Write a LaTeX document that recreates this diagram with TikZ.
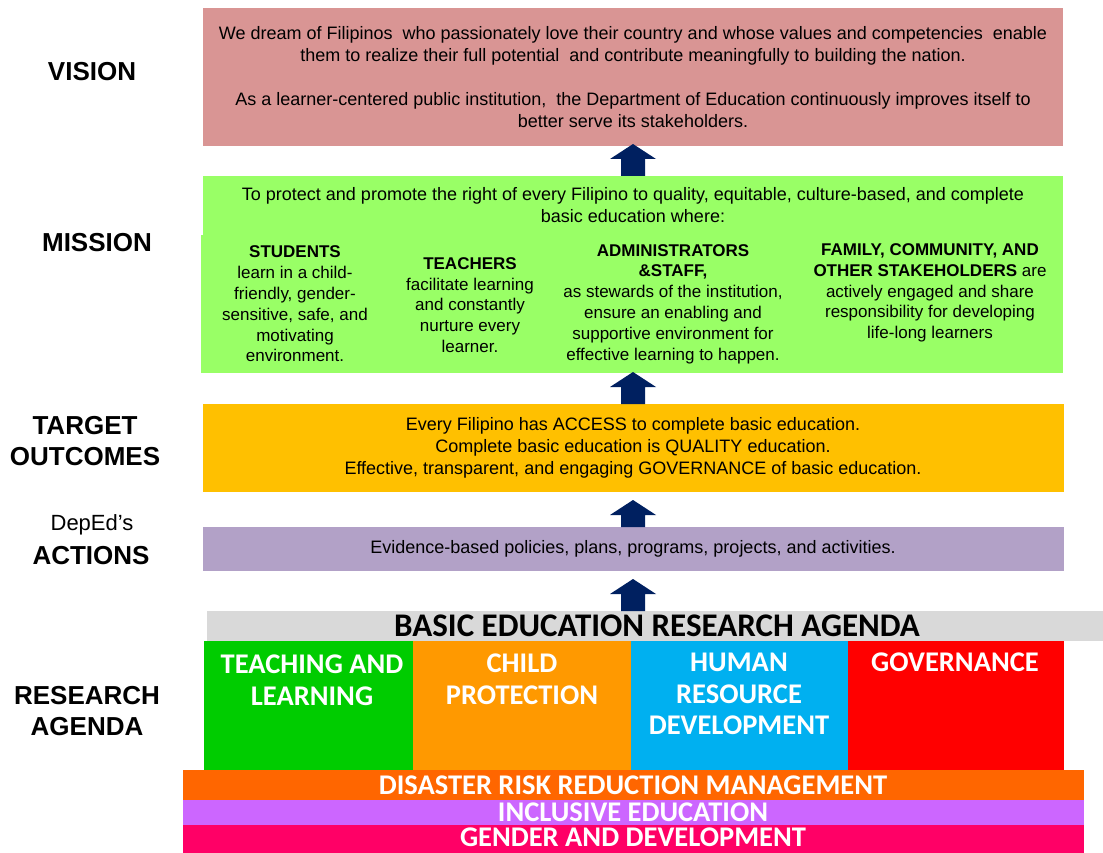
\documentclass[tikz,border=0pt]{standalone}
\usepackage{fontspec}
\setmainfont{Liberation Sans}
\newfontfamily\agfont{Carlito}
\usetikzlibrary{calc}
\definecolor{visionc}{HTML}{D99594}
\definecolor{missionc}{HTML}{99FF66}
\definecolor{targetc}{HTML}{FFC000}
\definecolor{actionc}{HTML}{B2A1C7}
\definecolor{greyc}{HTML}{D9D9D9}
\definecolor{tlc}{HTML}{00CC00}
\definecolor{cpc}{HTML}{FF9900}
\definecolor{hrc}{HTML}{00B0F0}
\definecolor{govc}{HTML}{FF0000}
\definecolor{drrc}{HTML}{FF6600}
\definecolor{incc}{HTML}{CC66FF}
\definecolor{gadc}{HTML}{FF0066}
\definecolor{navyc}{HTML}{002060}
\newcommand\blockarrow[2]{%
  \fill[navyc] ([xshift=-12pt]ax |- #1.north) -- ([xshift=-12pt,yshift=#2-15pt]ax |- #1.north)
    -- ([xshift=-23pt,yshift=#2-15pt]ax |- #1.north) -- ([yshift=#2]ax |- #1.north)
    -- ([xshift=23pt,yshift=#2-15pt]ax |- #1.north) -- ([xshift=12pt,yshift=#2-15pt]ax |- #1.north)
    -- ([xshift=12pt]ax |- #1.north) -- cycle;}
\begin{document}
\begin{tikzpicture}[x=1pt,y=-1pt,
  box/.style={draw=none,inner sep=0pt,outer sep=0pt,anchor=north west},
  lbl/.style={font=\bfseries\fontsize{26}{31}\selectfont,align=center,inner sep=0pt},
  body/.style={font=\fontsize{18}{22}\selectfont,align=center,inner sep=0pt},
  col/.style={font=\fontsize{17}{20.8}\selectfont,align=center,inner sep=0pt},
  ag/.style={font=\agfont\bfseries\fontsize{28.5}{31.5}\selectfont,align=center,inner sep=0pt,text=white},
  band/.style={font=\agfont\bfseries\fontsize{28.5}{28.5}\selectfont,inner sep=0pt,text=white}]
\useasboundingbox (0,0) rectangle (1103,853);
\coordinate (ax) at (633,0);
% boxes
\node[box,fill=visionc,minimum width=860pt,minimum height=138pt] (vision) at (203,8) {};
\node[box,fill=missionc,minimum width=860pt,minimum height=60pt] (mission) at (203,176) {};
\node[box,fill=missionc,minimum width=862pt,minimum height=138pt] (missionlow) at (201,235) {};
\node[box,fill=targetc,minimum width=861pt,minimum height=88pt] (target) at (203,404) {};
\node[box,fill=actionc,minimum width=861pt,minimum height=44pt] (action) at (203,527) {};
\node[box,fill=greyc,minimum width=896pt,minimum height=30pt] (bera) at (207,611) {};
\node[box,fill=tlc,minimum width=210pt,minimum height=129pt] (tl) at (204,641) {};
\node[box,fill=cpc,minimum width=218pt,minimum height=129pt] (cp) at (413,641) {};
\node[box,fill=hrc,minimum width=217pt,minimum height=129pt] (hr) at (631,641) {};
\node[box,fill=govc,minimum width=216pt,minimum height=129pt] (gov) at (848,641) {};
\node[box,fill=drrc,minimum width=901pt,minimum height=30pt] (drr) at (183,770) {};
\node[box,fill=incc,minimum width=901pt,minimum height=25pt] (inc) at (183,800) {};
\node[box,fill=gadc,minimum width=901pt,minimum height=28pt] (gad) at (183,825) {};
% arrows
\blockarrow{mission}{32pt}
\blockarrow{target}{32pt}
\blockarrow{action}{27pt}
\blockarrow{bera}{32pt}
% left labels
\node[lbl] (lvision) at (92,72) {VISION};
\node[lbl] (lmission) at (97,243) {MISSION};
\node[lbl] (ltarget) at (85,441) {TARGET\\OUTCOMES};
\node[font=\fontsize{22}{24}\selectfont,inner sep=0pt] (ldeped) at (92,525) {DepEd’s};
\node[lbl] (lactions) at (91,556) {ACTIONS};
\node[lbl] (lresearch) at (87,711) {RESEARCH\\AGENDA};
% texts
\node[body] (tvision) at (633,77) {We dream of Filipinos\ \ who passionately love their country and whose values and competencies\ \ enable\\
them to realize their full potential\ \ and contribute meaningfully\ to building\ the nation.\\[22pt]
As a learner-centered public\ institution,\ \ the Department of Education continuously improves itself\ to\\
better serve its stakeholders.};
\node[body] (tmission) at (633,205) {To protect and promote the right of every Filipino to quality,\ equitable,\ culture-based,\ and complete\\
basic education where:};
\node[col] (tstud) at (295,304) {\textbf{STUDENTS}\\learn\ in a child-\\friendly, gender-\\sensitive, safe, and\\motivating\\environment.};
\node[col] (tteach) at (470,305) {\textbf{TEACHERS}\\facilitate learning\\and\ constantly\\nurture\ every\\learner.};
\node[col] (tadmin) at (673,304) {\textbf{ADMINISTRATORS}\\\textbf{\&STAFF,}\\as stewards\ of the institution,\\ensure\ an enabling\ and\\supportive environment\ for\\effective learning\ to happen.};
\node[col] (tfam) at (930,293) {\textbf{FAMILY,\ COMMUNITY,\ AND}\\\textbf{OTHER STAKEHOLDERS} are\\actively engaged\ and share\\responsibility\ for developing\\life-long\ learners};
\node[body] (ttarget) at (633,448) {Every Filipino\ has\ ACCESS\ to complete\ basic education.\\
Complete\ basic\ education\ is QUALITY\ education.\\
Effective, transparent,\ and\ engaging\ GOVERNANCE of basic education.};
\node[body] (taction) at (633,549) {Evidence-based\ policies,\ plans,\ programs,\ projects,\ and activities.};
\node[band,text=black,font=\agfont\bfseries\fontsize{33}{33}\selectfont] (tbera) at (657,626) {BASIC EDUCATION RESEARCH AGENDA};
\node[ag] (ttl) at (312,680) {TEACHING AND\\LEARNING};
\node[ag] (tcp) at (522,679) {CHILD\\PROTECTION};
\node[ag] (thr) at (739,694) {HUMAN\\RESOURCE\\DEVELOPMENT};
\node[ag] (tgov) at (955,662) {GOVERNANCE};
\node[band] (tdrr) at (633,785) {DISASTER RISK REDUCTION MANAGEMENT};
\node[band] (tinc) at (633,812) {INCLUSIVE EDUCATION};
\node[band] (tgad) at (633,837) {GENDER AND DEVELOPMENT};
\end{tikzpicture}
\end{document}
